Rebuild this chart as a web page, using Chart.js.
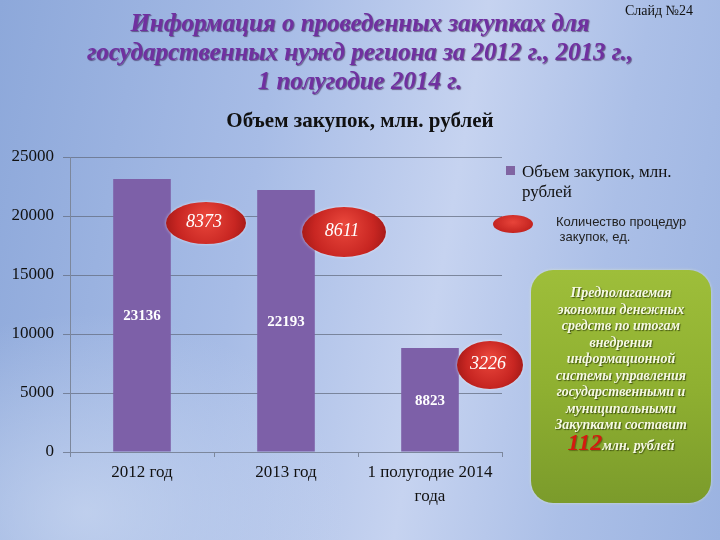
<!DOCTYPE html>
<html lang="ru">
<head>
<meta charset="utf-8">
<script src="https://cdn.jsdelivr.net/npm/chart.js@4.4.1/dist/chart.umd.min.js"></script>
<style>
  body { margin: 0; }
  #slide {
    position: relative; width: 720px; height: 540px; overflow: hidden;
    font-family: "Liberation Serif", "DejaVu Serif", serif;
    background:
      radial-gradient(ellipse 260px 200px at 12% 95%, rgba(205,218,242,0.7), rgba(205,218,242,0) 100%),
      linear-gradient(100deg, #8da8da 0%, #a7bce6 35%, #c6d3f0 60%, #abbfe7 80%, #9bb3e1 100%);
  }
  #chart { position: absolute; left: 0; top: 0; }
  .title {
    position: absolute; left: 0; width: 720px; top: 8px; text-align: center;
    font: italic bold 25px/29px "Liberation Serif", serif; color: #7030a0;
    text-shadow: 1px 1px 1px rgba(40, 10, 60, 0.55);
  }
  .slide-no { position: absolute; left: 625px; top: 3px; font-size: 14px; color: #111; }
  .chart-title {
    position: absolute; left: 0; width: 720px; top: 108px; text-align: center;
    font: bold 21px "Liberation Serif", serif; color: #111;
  }
  .legend1 { position: absolute; left: 506px; top: 162px; font-size: 17px; line-height: 20px; color: #111; }
  .legend1 .sw { position: absolute; left: 0; top: 4px; width: 9px; height: 9px; background: #8064a2; }
  .legend1 .tx { margin-left: 16px; }
  .legend2 { position: absolute; left: 556px; top: 214px; font: 13px/15px "Liberation Sans", Arial, sans-serif; color: #222; }
  .legend2 .oval {
    position: absolute; left: -63px; top: 1px; width: 40px; height: 18px; border-radius: 50%;
    background: radial-gradient(ellipse at 50% 40%, #e8443a, #c42420 70%, #a81a18);
  }
  .box {
    position: absolute; left: 531px; top: 270px; width: 180px; height: 233px; border-radius: 22px;
    background: linear-gradient(180deg, #9ebe3a 0%, #8fb031 50%, #7b9b2b 100%);
    box-shadow: 0 0 3px rgba(230, 240, 200, 0.7);
    text-align: center; color: #f6f9e4;
    font: italic bold 14px/16.5px "Liberation Serif", serif;
    text-shadow: 1px 1px 1px rgba(50, 65, 10, 0.8);
    padding-top: 15px; box-sizing: border-box;
  }
  .box .big { color: #d41a10; font-size: 24px; text-shadow: 1px 1px 1px rgba(60, 60, 0, 0.5); }
</style>
</head>
<body>
<div id="slide">
  <canvas id="chart" width="720" height="540"></canvas>
  <div class="title">Информация о проведенных закупках для<br>государственных нужд региона за 2012 г., 2013 г.,<br>1 полугодие 2014 г.</div>
  <div class="slide-no">Слайд №24</div>
  <div class="chart-title">Объем закупок, млн. рублей</div>
  <div class="legend1"><span class="sw"></span><div class="tx">Объем закупок, млн.<br>рублей</div></div>
  <div class="legend2"><span class="oval"></span>Количество процедур<br>&nbsp;закупок, ед.</div>
  <div class="box">
    Предполагаемая<br>экономия денежных<br>средств по итогам<br>внедрения<br>информационной<br>системы управления<br>государственными и<br>муниципальными<br>Закупками составит<br><span class="big">112</span>млн. рублей
  </div>
</div>
<script>
const categories = [['2012 год'], ['2013 год'], ['1 полугодие 2014', 'года']];
const purchaseVolume = [23136, 22193, 8823];
const procedureCount = [8373, 8611, 3226];
const yTicks = [0, 5000, 10000, 15000, 20000, 25000];

// ovals with the procedure counts, placed next to each bar
const ovalDx = [64, 58, 60];
const ovalY = [223, 232, 365];
const ovalR = [[40, 21], [42, 25], [33, 24]];

const labelsPlugin = {
  id: 'labels',
  afterDatasetsDraw(chart) {
    const ctx = chart.ctx;
    const meta = chart.getDatasetMeta(0);
    const x = chart.scales.x;
    ctx.save();
    ctx.textAlign = 'center';
    ctx.textBaseline = 'middle';
    meta.data.forEach((bar, i) => {
      ctx.fillStyle = '#ffffff';
      ctx.font = 'bold 15px "Liberation Serif", serif';
      ctx.fillText(purchaseVolume[i], bar.x, (bar.y + bar.base) / 2 + 1);
    });
    procedureCount.forEach((v, i) => {
      const cx = x.getPixelForValue(i) + ovalDx[i];
      const cy = ovalY[i];
      const [rx, ry] = ovalR[i];
      ctx.save();
      ctx.shadowColor = 'rgba(255,255,255,0.6)';
      ctx.shadowBlur = 3;
      const g = ctx.createRadialGradient(cx, cy - ry * 0.3, 2, cx, cy, rx);
      g.addColorStop(0, '#e9463b');
      g.addColorStop(0.7, '#c82622');
      g.addColorStop(1, '#a91b19');
      ctx.fillStyle = g;
      ctx.beginPath();
      ctx.ellipse(cx, cy, rx, ry, 0, 0, Math.PI * 2);
      ctx.fill();
      ctx.restore();
      ctx.fillStyle = '#ffffff';
      ctx.font = 'italic 18px "Liberation Serif", serif';
      ctx.fillText(v, cx - 2, cy - 1);
    });
    ctx.restore();
  }
};

new Chart(document.getElementById('chart'), {
  type: 'bar',
  data: {
    labels: categories,
    datasets: [{
      label: 'Объем закупок, млн. рублей',
      data: purchaseVolume,
      backgroundColor: '#7d60a8',
      categoryPercentage: 1,
      barPercentage: 0.4
    }]
  },
  options: {
    responsive: false,
    animation: false,
    layout: { padding: { top: 157, right: 218, bottom: 28, left: 0 } },
    plugins: { legend: { display: false }, tooltip: { enabled: false } },
    scales: {
      x: {
        afterFit: (s) => { s.height = 60; },
        grid: { drawOnChartArea: false, tickLength: 5, color: '#7c879c' },
        border: { color: '#7c879c' },
        ticks: { padding: 4, color: '#111', font: { family: '"Liberation Serif", serif', size: 17, lineHeight: 1.4 } }
      },
      y: {
        min: 0,
        max: 25000,
        afterFit: (s) => { s.width = 70; },
        afterBuildTicks: (s) => { s.ticks = yTicks.map(v => ({ value: v })); },
        grid: { color: 'rgba(100,110,130,0.75)', tickLength: 7 },
        border: { color: '#7c879c' },
        ticks: {
          padding: 9, color: '#111',
          font: { family: '"Liberation Serif", serif', size: 17 },
          callback: (v) => String(v)
        }
      }
    }
  },
  plugins: [labelsPlugin]
});
</script>
</body>
</html>
